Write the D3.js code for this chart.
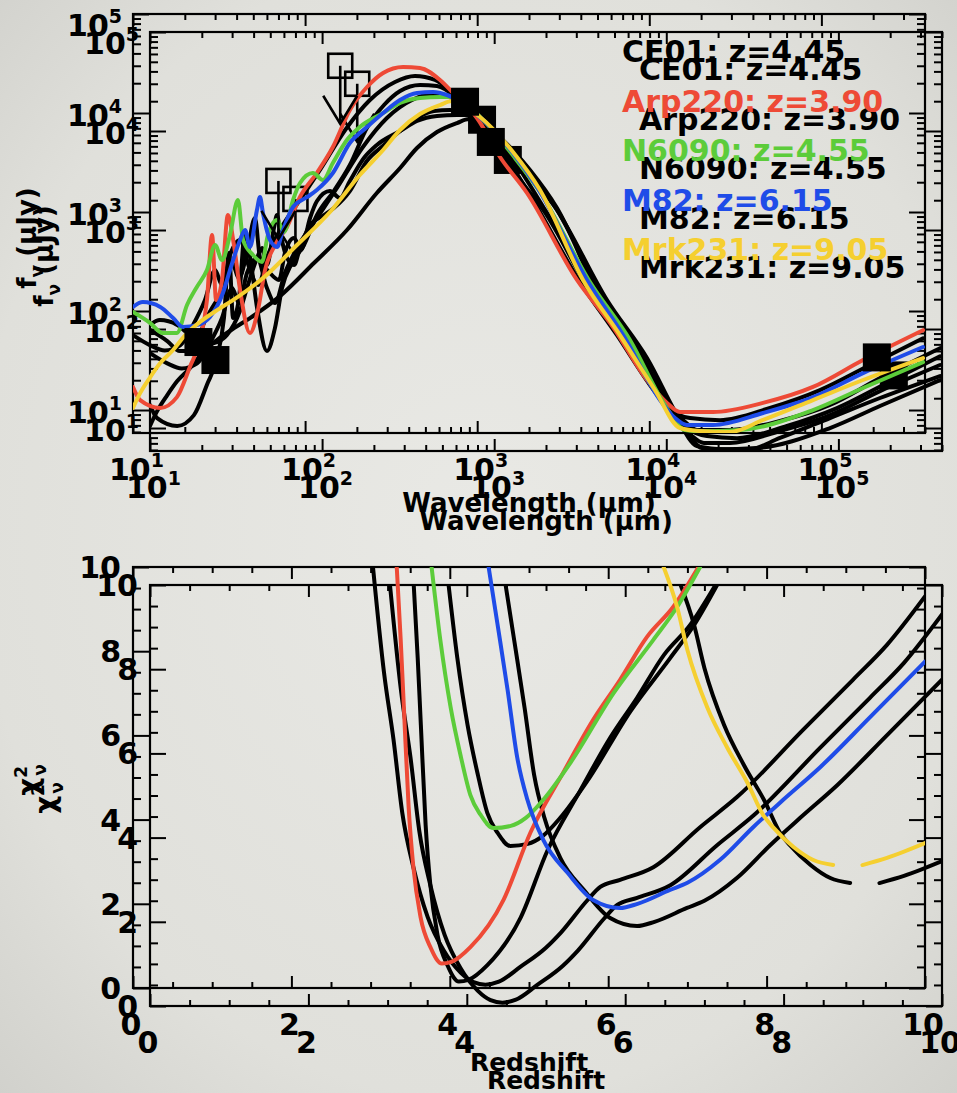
<!DOCTYPE html>
<html>
<head>
<meta charset="utf-8">
<script src="https://cdn.jsdelivr.net/npm/d3@7"></script>
<style>
  html, body { margin: 0; padding: 0; background: #e2e2dd; }
  svg { display: block; }
</style>
</head>
<body>
<svg id="chart" width="957" height="1093"></svg>
<script>
// ---------------- Template fits: SED (wavelength in μm, flux density in μJy) ----------------
const sedCE01 = [[10,57],[12.6,45],[15.3,40],[18.8,45],[22.3,72],[26.2,129],[30,259],[32.9,183],[36.6,368],[41.9,522],[47.8,259],[53.2,183],[60.8,368],[71.5,658],[93.4,1322],[122,2656],[171,6737],[238,13530],[333,20570],[435,23640],[569,21540],[714,16300],[1011,9112],[2027,1485],[3957,196],[6493,57],[10090,17.9],[12850,10.5],[17240,8.3],[25760,7.9],[50290,10.5],[98140,15.9],[191600,28.5],[389400,53]];
const sedArp220 = [[10,17.1],[11,12.6],[14.4,10.5],[18,13.5],[21.4,27.2],[24.5,50.9],[26.9,129],[28.8,586],[30.4,129],[32.9,206],[35.6,933],[38.6,464],[41.9,163],[47.8,60],[53.2,102],[58.5,259],[66.9,464],[78.5,706],[93.4,1418],[117,2477],[145,4536],[182,10720],[229,18310],[284,25360],[371,29150],[465,28480],[608,21540],[743,15200],[997,8903],[1357,3594],[1947,1556],[3801,206],[6152,68.9],[9697,20.1],[12670,11.8],[15080,9.55],[23450,9.55],[45790,11.8],[89390,17.1],[174500,32],[389400,64]];
const sedN6090 = [[10,97.7],[12.6,75.6],[14.9,60],[18,60],[20.6,115],[23.5,175],[26.9,259],[30,464],[32.9,327],[36.6,586],[40.7,1322],[43.6,522],[49.8,368],[56.2,313],[60.8,586],[68.7,830],[75.4,628],[85.1,1322],[93.4,1963],[111,2477],[127,2105],[145,3126],[175,5338],[208,7222],[284,10000],[356,12620],[465,14170],[608,14510],[714,14510],[1110,8112],[1658,3511],[2317,1592],[4523,196],[7723,50.9],[12340,11.2],[16130,6.28],[19710,6.1],[33650,6.28],[89390,10],[174500,16.7],[389400,30.5]];
const sedM82 = [[10,110],[11.4,123],[14.4,110],[17.1,85],[19.5,69],[23.5,72],[28,87],[33.3,152],[36.6,259],[41.9,522],[44.8,658],[47.8,443],[52.5,1047],[54.7,1418],[56.9,977],[62.5,522],[68.7,443],[74.4,658],[85.1,1123],[103,1418],[117,1668],[145,2477],[182,4977],[229,7222],[284,10000],[356,13530],[447,15920],[554,16300],[668,15200],[1081,8499],[1614,3945],[2226,1788],[4345,206],[7225,53.3],[11540,12.6],[14100,8.3],[16560,7.06],[23450,7.06],[45790,9.33],[89390,13.5],[174500,23.6],[389400,43.3]];
const sedMrk231 = [[10,10.5],[11,14.8],[12.6,21.5],[14.4,29.8],[17.1,40.4],[20.1,57.2],[24.5,77.4],[30.8,102],[38.1,129],[56.9,215],[89.7,464],[139.5,1000],[208,2364],[284,4230],[356,6737],[465,9770],[608,12040],[714,13220],[1038,9112],[1614,4036],[2317,1668],[4119,206],[6757,57.2],[10790,15.9],[15080,6.58],[19710,6.13],[29440,6.0],[45790,7.93],[89390,12.6],[174500,20.1],[389400,33.5]];

// Photometry: detections and upper limits
const detWave = [24, 850, 1200, 210000];
const detFlux = [48.6, 13000, 5100, 34];
const limWave = [70, 160];
const limFlux = [2060, 30000];

// ---------------- Chi-square vs redshift ----------------
const chiCE01 = [[3.03,10],[3.17,7.48],[3.29,5.89],[3.40,4.16],[3.54,2.87],[3.72,1.69],[3.92,0.90],[4.14,0.36],[4.30,0.14],[4.45,0.08],[4.62,0.15],[4.89,0.50],[5.21,0.95],[5.40,1.31],[5.74,2.09],[5.90,2.40],[6.15,2.57],[6.57,2.87],[7.16,3.82],[7.63,4.54],[8.46,6.13],[9.09,7.32],[9.52,8.15],[10,9.3]];
const chiArp220 = [[3.33,10],[3.38,8.27],[3.42,6.67],[3.48,4.30],[3.54,2.87],[3.63,1.69],[3.76,0.95],[3.90,0.58],[4.02,0.62],[4.26,0.97],[4.68,2.1],[5.02,3.7],[5.43,5.11],[5.81,6.37],[6.15,7.32],[6.49,8.34],[6.82,9.05],[7.14,10]];
const chiN6090 = [[3.77,10],[3.88,8.27],[4.01,6.67],[4.14,5.49],[4.26,4.58],[4.39,4.11],[4.55,3.80],[4.77,3.85],[4.96,4.04],[5.18,4.47],[5.52,5.34],[6.07,7.01],[6.57,8.27],[6.87,9.05],[7.16,10]];
const chiM82 = [[4.49,10],[4.60,8.67],[4.73,7.08],[4.85,5.49],[4.98,4.47],[5.18,3.52],[5.49,2.73],[5.81,2.09],[6.15,1.9],[6.37,2.0],[6.78,2.33],[7.0,2.5],[7.41,3.04],[7.83,3.82],[8.21,4.47],[8.68,5.25],[9.31,6.44],[10,7.75]];
const chiMrk231 = [[6.70,10],[6.87,9.05],[7.0,8.03],[7.25,6.67],[7.50,5.72],[7.76,4.87],[7.96,4.1],[8.08,3.82],[8.34,3.35],[8.59,3.04],[8.84,2.92],[9.0,null],[9.21,2.92],[9.52,3.09],[10,3.44]];

// Templates, best-fit redshifts and palette
const templateNames = ["CE01", "Arp220", "N6090", "M82", "Mrk231"];
const templateZ = ["4.45", "3.90", "4.55", "6.15", "9.05"];
const palette = ["#000000", "#ee4a36", "#5ccc3a", "#1f4ce8", "#f5cf30"];
const sedSeries = [sedCE01, sedArp220, sedN6090, sedM82, sedMrk231];
const chiSeries = [chiCE01, chiArp220, chiN6090, chiM82, chiMrk231];

// Axis tick labels
const sedXMajor = [10, 100, 1000, 10000, 100000];
const sedYMajor = [10, 100, 1000, 10000, 100000];
const chiMajor = [0, 2, 4, 6, 8, 10];

// ---------------- Layout ----------------
const FONT = "'DejaVu Sans', sans-serif";
const svg = d3.select("#chart");
const defs = svg.append("defs");

const grad = defs.append("radialGradient").attr("id", "bg").attr("cx", "50%").attr("cy", "48%").attr("r", "75%");
grad.append("stop").attr("offset", "0%").attr("stop-color", "#e9e9e5");
grad.append("stop").attr("offset", "70%").attr("stop-color", "#e0e0db");
grad.append("stop").attr("offset", "100%").attr("stop-color", "#cfcfca");
svg.append("rect").attr("width", 957).attr("height", 1093).attr("fill", "url(#bg)");

const sedBox = {x0: 133, x1: 925, y0: 14, y1: 433};
const chiBox = {x0: 133, x1: 925, y0: 567, y1: 988};

const sedX = d3.scaleLog().domain([10, 4e5]).range([sedBox.x0, sedBox.x1]);
const sedY = d3.scaleLog().domain([5.86, 1e5]).range([sedBox.y1, sedBox.y0]);
const chiX = d3.scaleLinear().domain([0, 10]).range([chiBox.x0, chiBox.x1]);
const chiY = d3.scaleLinear().domain([0, 10]).range([chiBox.y1, chiBox.y0]);

defs.append("clipPath").attr("id", "clipSed").append("rect")
  .attr("x", sedBox.x0).attr("y", sedBox.y0).attr("width", sedBox.x1 - sedBox.x0).attr("height", sedBox.y1 - sedBox.y0);
defs.append("clipPath").attr("id", "clipChi").append("rect")
  .attr("x", chiBox.x0).attr("y", chiBox.y0).attr("width", chiBox.x1 - chiBox.x0).attr("height", chiBox.y1 - chiBox.y0);

// minor ticks of the log axes: 2..9 times each decade inside the domain
function logMinors(scale) {
  const [a, b] = scale.domain();
  const out = [];
  for (let k = Math.floor(Math.log10(a)); k <= Math.ceil(Math.log10(b)); k++) {
    for (let m = 2; m <= 9; m++) {
      const v = m * Math.pow(10, k);
      if (v >= a && v <= b) out.push(v);
    }
  }
  return out;
}
const linMinors = d3.range(0, 10.01, 0.5).filter(v => v % 2 !== 0);

function tickSet(g, axisGen, values, size, tx, ty) {
  g.append("g").attr("transform", `translate(${tx},${ty})`)
    .call(axisGen.tickValues(values).tickSizeInner(-size).tickSizeOuter(0).tickFormat(""))
    .call(s => s.select(".domain").remove())
    .call(s => s.selectAll("line").attr("stroke", "#000").attr("stroke-width", 2));
}

function frameTicks(g, xs, ys, box, xMaj, xMin, yMaj, yMin) {
  g.append("rect").attr("x", box.x0).attr("y", box.y0)
    .attr("width", box.x1 - box.x0).attr("height", box.y1 - box.y0)
    .attr("fill", "none").attr("stroke", "#000").attr("stroke-width", 2.2);
  tickSet(g, d3.axisBottom(xs), xMaj, 12, 0, box.y1);
  tickSet(g, d3.axisBottom(xs), xMin, 6, 0, box.y1);
  tickSet(g, d3.axisTop(xs), xMaj, 12, 0, box.y0);
  tickSet(g, d3.axisTop(xs), xMin, 6, 0, box.y0);
  tickSet(g, d3.axisLeft(ys), yMaj, 16, box.x0, 0);
  tickSet(g, d3.axisLeft(ys), yMin, 8, box.x0, 0);
  tickSet(g, d3.axisRight(ys), yMaj, 16, box.x1, 0);
  tickSet(g, d3.axisRight(ys), yMin, 8, box.x1, 0);
}

function powerLabel(g, v, x, y, anchor) {
  const t = g.append("text").attr("x", x).attr("y", y)
    .attr("text-anchor", anchor).attr("font-family", FONT).attr("font-weight", "bold")
    .attr("font-size", 30).attr("fill", "#000");
  t.append("tspan").text("10");
  t.append("tspan").attr("dy", -13).attr("font-size", 19).text(String(Math.round(Math.log10(v))));
}

function drawCopy(root, mono) {
  const ink = c => (mono ? "#000" : c);

  // ----- SED panel -----
  const top = root.append("g");
  frameTicks(top, sedX, sedY, sedBox, sedXMajor, logMinors(sedX), sedYMajor, logMinors(sedY));

  const sedLine = d3.line().x(d => sedX(d[0])).y(d => sedY(d[1])).curve(d3.curveMonotoneX);
  const curves = top.append("g").attr("clip-path", "url(#clipSed)");
  [0, 1, 2, 3, 4].forEach(i => {
    curves.append("path").datum(sedSeries[i]).attr("d", sedLine)
      .attr("fill", "none").attr("stroke", ink(palette[i]))
      .attr("stroke-width", 4).attr("stroke-linejoin", "round").attr("stroke-linecap", "round");
  });

  // detections
  curves.selectAll("rect.det").data(detWave.map((w, i) => [w, detFlux[i]])).join("rect")
    .attr("class", "det")
    .attr("x", d => sedX(d[0]) - 14).attr("y", d => sedY(d[1]) - 14)
    .attr("width", 28).attr("height", 28).attr("fill", "#000");

  // upper limits: open square with a downward arrow
  limWave.forEach((w, i) => {
    const cx = sedX(w), cy = sedY(limFlux[i]);
    const u = top.append("g").attr("fill", "none").attr("stroke", "#000").attr("stroke-width", 2.6);
    u.append("rect").attr("x", cx - 12).attr("y", cy - 12).attr("width", 24).attr("height", 24);
    u.append("line").attr("x1", cx).attr("y1", cy).attr("x2", cx).attr("y2", cy + 58);
    u.append("polyline").attr("points", `${cx - 17},${cy + 30} ${cx},${cy + 58} ${cx + 17},${cy + 30}`);
  });

  // tick labels (the top one is nudged down to stay on the page)
  sedXMajor.forEach(v => powerLabel(top, v, sedX(v) - 24, 480, "start"));
  sedYMajor.forEach(v => powerLabel(top, v, 122, Math.max(sedY(v) + 13, 36), "end"));

  top.append("text").attr("x", (sedBox.x0 + sedBox.x1) / 2).attr("y", 512)
    .attr("text-anchor", "middle").attr("font-family", FONT).attr("font-weight", "bold")
    .attr("font-size", 26).attr("fill", "#000").text("Wavelength (μm)");

  const yt = top.append("text").attr("transform", "translate(36,238) rotate(-90)")
    .attr("text-anchor", "middle").attr("font-family", FONT).attr("font-weight", "bold")
    .attr("font-size", 26).attr("fill", "#000");
  yt.append("tspan").text("f");
  yt.append("tspan").attr("dy", 7).attr("font-size", 17).text("ν");
  yt.append("tspan").attr("dy", -7).text(" (μJy)");

  // legend
  templateNames.forEach((n, i) => {
    top.append("text").attr("x", 622).attr("y", 62 + i * 49.5)
      .attr("font-family", FONT).attr("font-weight", "bold").attr("font-size", 30)
      .attr("fill", ink(palette[i])).text(`${n}: z=${templateZ[i]}`);
  });

  // ----- chi-square panel -----
  const bot = root.append("g");
  frameTicks(bot, chiX, chiY, chiBox, chiMajor, linMinors, chiMajor, linMinors);

  const chiLine = d3.line().defined(d => d[1] !== null)
    .x(d => chiX(d[0])).y(d => chiY(d[1])).curve(d3.curveMonotoneX);
  const chiCurves = bot.append("g").attr("clip-path", "url(#clipChi)");
  [0, 1, 2, 3, 4].forEach(i => {
    chiCurves.append("path").datum(chiSeries[i]).attr("d", chiLine)
      .attr("fill", "none").attr("stroke", ink(palette[i]))
      .attr("stroke-width", 4).attr("stroke-linejoin", "round").attr("stroke-linecap", "round");
  });

  chiMajor.forEach(v => {
    bot.append("text").attr("x", chiX(v) - 2).attr("y", 1035).attr("text-anchor", "middle")
      .attr("font-family", FONT).attr("font-weight", "bold").attr("font-size", 30)
      .attr("fill", "#000").text(v);
    bot.append("text").attr("x", 121).attr("y", chiY(v) + 11).attr("text-anchor", "end")
      .attr("font-family", FONT).attr("font-weight", "bold").attr("font-size", 30)
      .attr("fill", "#000").text(v);
  });

  bot.append("text").attr("x", (chiBox.x0 + chiBox.x1) / 2).attr("y", 1071)
    .attr("text-anchor", "middle").attr("font-family", FONT).attr("font-weight", "bold")
    .attr("font-size", 25).attr("fill", "#000").text("Redshift");

  const ct = bot.append("text").attr("transform", "translate(38,780) rotate(-90)")
    .attr("text-anchor", "middle").attr("font-family", FONT).attr("font-weight", "bold")
    .attr("font-size", 28).attr("fill", "#000");
  ct.append("tspan").text("χ");
  ct.append("tspan").attr("dy", -11).attr("font-size", 17).text("2");
  ct.append("tspan").attr("dx", -10).attr("dy", 19).attr("font-size", 17).text("ν");
}

// Monochrome duplicate underneath, colour version on top
drawCopy(svg.append("g").attr("transform", "translate(17,18)"), true);
drawCopy(svg.append("g"), false);
</script>
</body>
</html>
